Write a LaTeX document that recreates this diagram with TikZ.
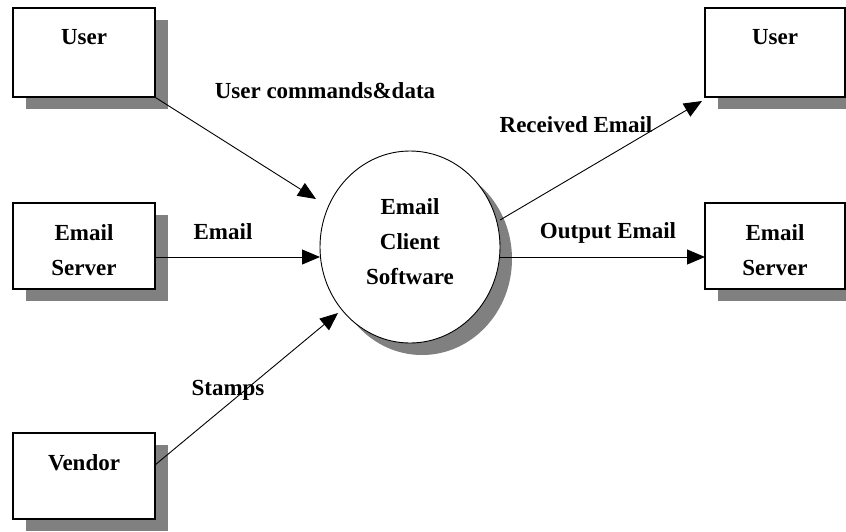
\documentclass[tikz,border=0pt]{standalone}
\usepackage{fontspec}
\setmainfont{Liberation Serif}
\usetikzlibrary{arrows.meta,shapes.geometric,shadows}
\definecolor{shgray}{RGB}{128,128,128}
\begin{document}
\begin{tikzpicture}[x=1pt,y=-1pt,
  box/.style={draw, line width=1.2pt, fill=white, inner sep=0pt,
    drop shadow={shadow xshift=13pt, shadow yshift=-12pt, fill=shgray, opacity=1}},
  proc/.style={ellipse, draw, line width=0.9pt, fill=white, inner sep=0pt,
    minimum width=180pt, minimum height=192pt,
    drop shadow={shadow xshift=12pt, shadow yshift=-12pt, fill=shgray, opacity=1}},
  txt/.style={font=\fontsize{23}{35}\selectfont\bfseries, align=center, inner sep=0pt},
  arr/.style={line width=0.9pt, -{Triangle[length=18pt,width=15pt]}}
]
\useasboundingbox (0,0) rectangle (846,531);

% boxes
\node[box, minimum width=142pt, minimum height=89pt] (u1) at (84,52.5) {};
\node[box, minimum width=142pt, minimum height=86pt] (e1) at (84,246) {};
\node[box, minimum width=142pt, minimum height=86pt] (v1) at (84,476) {};
\node[box, minimum width=140pt, minimum height=89pt] (u2) at (775,52.5) {};
\node[box, minimum width=140pt, minimum height=86pt] (e2) at (775,246) {};
\node[proc] (ec) at (410,247) {};

% box texts
\node[txt] (u1t) at (84,37) {User};
\node[txt] (e1t) at (84,250) {Email\\Server};
\node[txt] (v1t) at (84,463) {Vendor};
\node[txt] (u2t) at (775,37) {User};
\node[txt] (e2t) at (775,250) {Email\\Server};
\node[txt] (ect) at (410,242) {Email\\Client\\Software};

% connector end points
\coordinate (a1e) at (316,199);
\coordinate (a2s) at (155,257);
\coordinate (a2e) at (320,257);
\coordinate (a3s) at (155,465);
\coordinate (a3e) at (338,313);
\coordinate (a4s) at (500,220);
\coordinate (a4e) at (702,101);
\coordinate (a5s) at (500,257);
\coordinate (a5e) at (705,257);

\draw[arr] (u1.south east) -- (a1e);
\draw[arr] (a2s) -- (a2e);
\draw[arr] (a3s) -- (a3e);
\draw[arr] (a4s) -- (a4e);
\draw[arr] (a5s) -- (a5e);

% labels
\node[txt] (l1) at (325,91) {User commands\&data};
\node[txt] (l2) at (223,232) {Email};
\node[txt] (l3) at (228,390) {Stamps};
\node[txt] (l4) at (576,125) {Received Email};
\node[txt] (l5) at (608,233) {Output Email};
\end{tikzpicture}
\end{document}
